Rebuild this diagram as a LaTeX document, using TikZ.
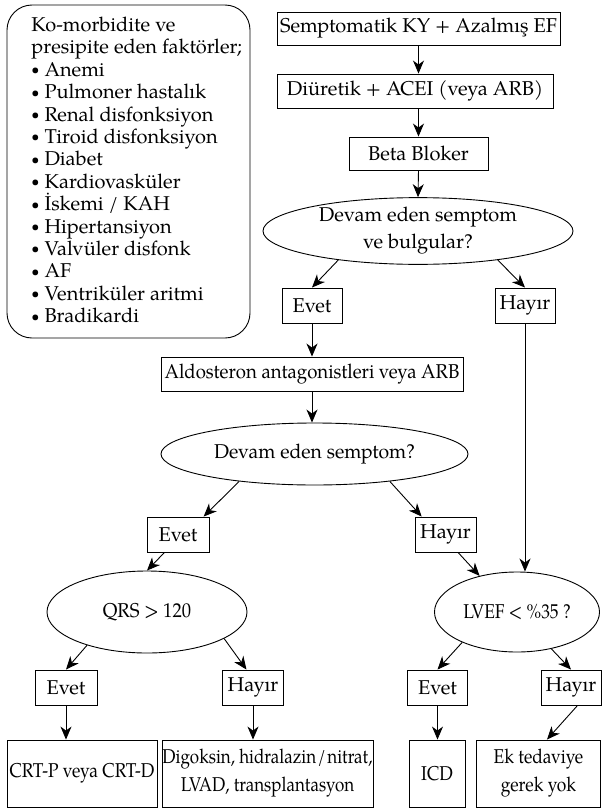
\documentclass[tikz,border=0pt]{standalone}
\usepackage{fontspec}
\usepackage{graphicx}
\setmainfont{texgyrepagella}[Extension=.otf, UprightFont=*-regular]
\newfontfamily\condA{texgyrepagella}[Extension=.otf, UprightFont=*-regular, FakeStretch=0.93]
\newfontfamily\condC{texgyrepagella}[Extension=.otf, UprightFont=*-regular, FakeStretch=0.97]
\newfontfamily\condB{texgyrepagella}[Extension=.otf, UprightFont=*-regular, FakeStretch=0.87]
\newfontfamily\condD{texgyrepagella}[Extension=.otf, UprightFont=*-regular, FakeStretch=0.85]
\newcommand{\bul}{\raisebox{1.6pt}{\scalebox{0.72}{\textbullet}}\ }
\usetikzlibrary{shapes.geometric, arrows.meta}
\begin{document}
\begin{tikzpicture}[x=1pt, y=-1pt, line width=0.9pt,
  every node/.style={font=\fontsize{20}{22}\selectfont, inner sep=0pt, line width=0.9pt},
  box/.style={draw, rectangle, minimum height=35},
  oval/.style={draw, ellipse, inner sep=0pt},
  arr/.style={-{Stealth[length=13pt,width=11pt,inset=4pt]}},
]
\useasboundingbox (0,0) rectangle (602,811);

% left list
\node[draw, rectangle, rounded corners=25pt, minimum width=243, minimum height=333] (risk) at (128.5,171.5) {};
\node[anchor=west, align=left, font=\fontsize{20}{22.4}\selectfont] (risktext) at (31,170) {Ko-morbidite ve\\presipite eden faktörler;\\
\bul Anemi\\
\bul Pulmoner hastalık\\
\bul Renal disfonksiyon\\
\bul Tiroid disfonksiyon\\
\bul Diabet\\
\bul Kardiovasküler\\
\bul İskemi / KAH\\
\bul Hipertansiyon\\
\bul Valvüler disfonk\\
\bul AF\\
\bul Ventriküler aritmi\\
\bul Bradikardi};

% main column
\node[box, minimum width=283, minimum height=33] (s1) at (418.5,28.5) {Semptomatik KY + Azalmış EF};
\node[box, minimum width=276, minimum height=34] (s2) at (415,91) {Diüretik + ACEI (veya ARB)};
\node[box, minimum width=139, minimum height=33] (s3) at (418.5,153.5) {Beta Bloker};
\node[oval, minimum width=310, minimum height=63, align=center, font=\fontsize{20}{27}\selectfont] (e1) at (418,231) {Devam eden semptom\\ve bulgular?};
\node[box, minimum width=60] (ev1) at (312,305.5) {Evet};
\node[box, minimum width=60] (hy1) at (525,305.5) {Hayır};
\node[box, minimum width=302, minimum height=34, font=\fontsize{20}{22}\condA] (ald) at (312,374) {Aldosteron antagonistleri veya ARB};
\node[oval, minimum width=307, minimum height=62, font=\fontsize{20}{22}\condC] (e2) at (314.5,454) {Devam eden semptom?};
\node[box, minimum width=62] (ev2) at (178,534.5) {Evet};
\node[box, minimum width=61] (hy2) at (445.5,534.5) {Hayır};
\node[oval, minimum width=200, minimum height=82, font=\fontsize{20}{22}\condA] (qrs) at (147,612) {QRS > 120};
\node[oval, minimum width=165, minimum height=80, font=\fontsize{20}{22}\condB] (lv) at (517,612) {LVEF < \%35 ?};
\node[box, minimum width=62] (ev3) at (66,687.5) {Evet};
\node[box, minimum width=61] (hy3) at (253,687.5) {Hayır};
\node[box, minimum width=60] (ev4) at (437.5,687.5) {Evet};
\node[box, minimum width=60] (hy4) at (571,687.5) {Hayır};
\node[box, minimum width=150, minimum height=67, font=\fontsize{20}{22}\condB] (crt) at (82,773.5) {CRT-P veya CRT-D};
\node[box, minimum width=211, minimum height=67, align=center, font=\fontsize{20}{28}\condD] (dig) at (267.5,773.5) {Digoksin, hidralazin\kern1.5pt/\kern1.5pt nitrat,\\LVAD, transplantasyon};
\node[box, minimum width=56, minimum height=67, font=\fontsize{20}{22}\condB] (icd) at (437,773.5) {ICD};
\node[box, minimum width=124, minimum height=67, align=center, font=\fontsize{20}{28}\condB] (ek) at (538.5,773.5) {Ek tedaviye\\gerek yok};

% connectors
\draw[arr] (s1.south) -- (s1.south |- s2.north);
\draw[arr] (s2.south -| s1.south) -- (s3.north);
\draw[arr] (s3.south) -- (e1.north);
\draw[arr] (e1.200) -- (ev1.north);
\draw[arr] (e1.340) -- (hy1.north);
\draw[arr] (ev1.south) -- (ald.north);
\draw[arr] (ald.south) -- (ald.south |- e2.north);
\draw[arr] (e2.200) -- (ev2.35);
\draw[arr] (e2.340) -- (hy2.143);
\draw[arr] (hy1.south) -- (hy1.south |- lv.north);
\draw[arr] (ev2.233) -- (qrs.north);
\draw[arr] (hy2.305) -- (lv.136);
\draw[arr] (qrs.209) -- (ev3.north);
\draw[arr] (qrs.341) -- (hy3.110);
\draw[arr] (ev3.south) -- (ev3.south |- crt.north);
\draw[arr] (hy3.south) -- (hy3.south |- dig.north);
\draw[arr] (lv.209) -- (ev4.north);
\draw[arr] (lv.313) -- (hy4.north);
\draw[arr] (ev4.south) -- (ev4.south |- icd.north);
\draw[arr] (hy4.290) -- (ek.76);
\end{tikzpicture}
\end{document}
